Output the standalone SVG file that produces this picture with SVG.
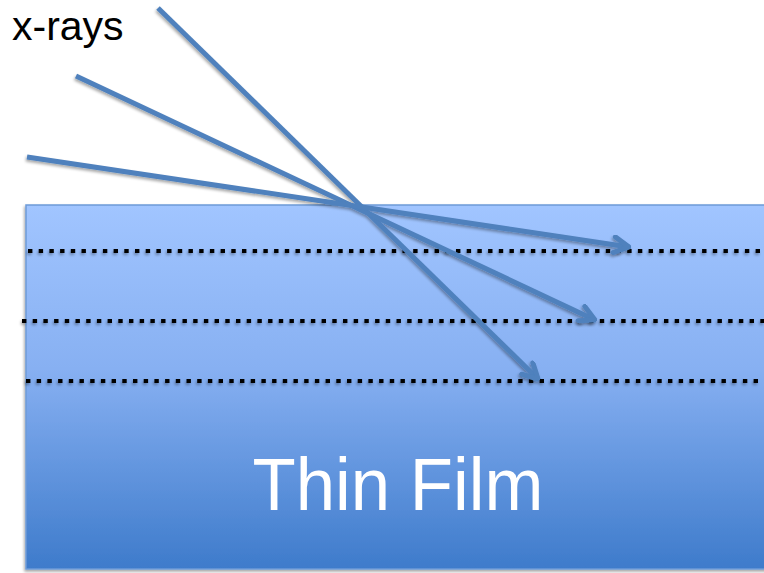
<svg xmlns="http://www.w3.org/2000/svg" width="764" height="573" viewBox="0 0 764 573">
<defs>
<linearGradient id="film" x1="0" y1="0" x2="0" y2="1">
<stop offset="0" stop-color="#A1C5FF"/>
<stop offset="0.45" stop-color="#87B0F2"/>
<stop offset="1" stop-color="#3E7BCB"/>
</linearGradient>
<filter id="sh" x="-10%" y="-10%" width="130%" height="130%">
<feGaussianBlur in="SourceAlpha" stdDeviation="1.5"/>
<feOffset dx="-1" dy="2" result="b"/>
<feComponentTransfer><feFuncA type="linear" slope="0.35"/></feComponentTransfer>
<feMerge><feMergeNode/><feMergeNode in="SourceGraphic"/></feMerge>
</filter>
<marker id="arr" markerUnits="userSpaceOnUse" viewBox="0 0 20 20" refX="18" refY="10" markerWidth="20" markerHeight="20" orient="auto">
<path d="M3,2 L18,10 L3,18" fill="none" stroke="#4F81BD" stroke-width="5" stroke-linecap="round" stroke-linejoin="round"/>
</marker>
<style>
.ray{fill:none;stroke:#4F81BD;stroke-width:5;stroke-linecap:butt}
.dots{fill:none;stroke:#000;stroke-width:4;stroke-dasharray:4.4 6.3}
.lbl{font-family:"Liberation Sans",Arial,sans-serif}
</style>
</defs>
<rect width="764" height="573" fill="#fff"/>
<g id="film-layer" filter="url(#sh)">
<rect x="26" y="205" width="760" height="364" fill="url(#film)" stroke="#6D9AD8" stroke-width="1.5"/>
</g>
<g id="film-label">
<text class="lbl" x="398" y="510" font-size="74" fill="#fff" text-anchor="middle" textLength="291" lengthAdjust="spacingAndGlyphs">Thin Film</text>
</g>
<g id="layers" filter="url(#sh)">
<line class="dots" x1="28" y1="251" x2="764" y2="251"/>
<line class="dots" x1="22" y1="321" x2="764" y2="321"/>
<line class="dots" x1="26" y1="381" x2="764" y2="381"/>
</g>
<g id="connectors" filter="url(#sh)">
<path class="ray" d="M158,8 L538,379" marker-end="url(#arr)"/>
<path class="ray" d="M76,76 L595,320" marker-end="url(#arr)"/>
<path class="ray" d="M27,157 L629,247" marker-end="url(#arr)"/>
</g>
<g id="xrays-label">
<text class="lbl" x="12" y="40" font-size="41" fill="#000">x-rays</text>
</g>
</svg>
